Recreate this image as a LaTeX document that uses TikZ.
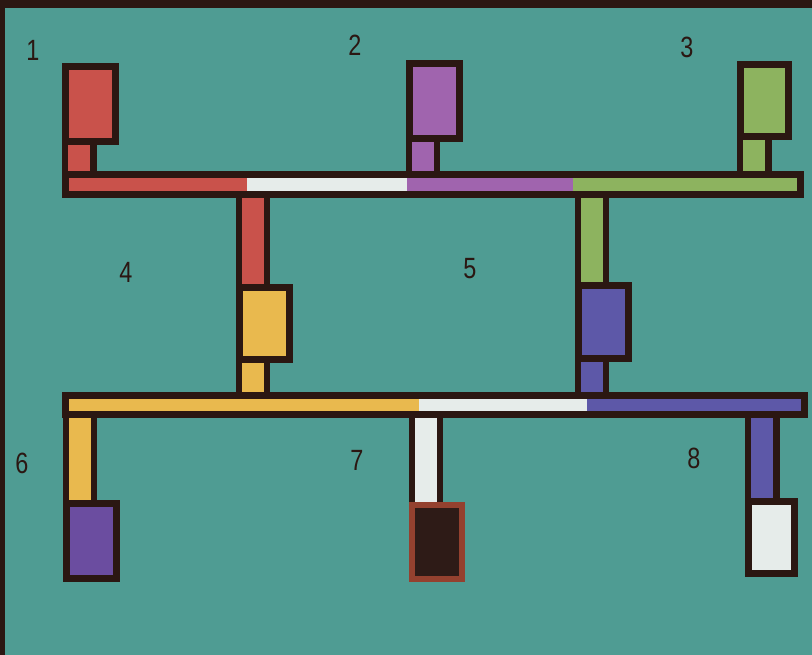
\documentclass[tikz,border=0pt]{standalone}
\usepackage{fontspec}
\newfontfamily\tagfont[FakeStretch=0.8]{Liberation Sans}
\usetikzlibrary{backgrounds}
\definecolor{PoolTeal}{HTML}{4F9C93}
\definecolor{Ink}{HTML}{2B1712}
\definecolor{CellRed}{HTML}{C9524B}
\definecolor{CellPlum}{HTML}{A064AE}
\definecolor{CellGreen}{HTML}{8DB35F}
\definecolor{CellYellow}{HTML}{E9B94E}
\definecolor{CellViolet}{HTML}{5D58A8}
\definecolor{CellDeep}{HTML}{6B4DA0}
\definecolor{CellWhite}{HTML}{E6ECEA}
\definecolor{CellBrown}{HTML}{94412F}
\definecolor{CellDark}{HTML}{2E1B17}

\begin{document}
\begin{tikzpicture}[x=0.3mm,y=-0.3mm,
  cell/.style={draw=Ink,line width=2.1mm,minimum width=15mm,minimum height=22.5mm,inner sep=0pt,outer sep=0pt},
  bar/.style={draw=Ink,line width=2.1mm,minimum height=6mm,inner sep=0pt,outer sep=0pt},
  stem/.style={draw=Ink,line width=1.9mm,double distance=6.6mm},
  tag/.style={font=\tagfont\fontsize{25}{25}\selectfont,text=Ink}
]
\useasboundingbox (0,0) rectangle (812,655);
% cells of each generation
\node[cell,fill=CellRed] (b1) at (90.5,104.5) {};
\node[cell,fill=CellPlum] (b2) at (434,101) {};
\node[cell,fill=CellGreen,minimum width=14.4mm,minimum height=21.6mm] (b3) at (764.5,100.5) {};
\node[cell,fill=CellYellow,minimum height=21.6mm] (b4) at (264,323.5) {};
\node[cell,fill=CellViolet,minimum height=21.9mm] (b5) at (603,322) {};
\node[cell,fill=CellDeep] (b6) at (91,541) {};
\node[cell,draw=CellBrown,fill=CellDark,line width=1.8mm,minimum height=22.2mm] (b7) at (437,541.5) {};
\node[cell,fill=CellWhite,minimum width=13.8mm,minimum height=21.6mm] (b8) at (771.5,537.5) {};
% the two bars
\node[bar,minimum width=220.5mm] (bar1) at (433,184.5) {};
\node[bar,minimum width=221.7mm,minimum height=5.7mm] (bar2) at (435,405) {};
% numbers
\node[tag] (n1) at (33,50) {1};
\node[tag] (n2) at (355,45) {2};
\node[tag] (n3) at (687,47) {3};
\node[tag] (n4) at (126,272) {4};
\node[tag] (n5) at (470,269) {5};
\node[tag] (n6) at (22,463) {6};
\node[tag] (n7) at (357,460) {7};
\node[tag] (n8) at (694,458) {8};
\begin{scope}[on background layer]
  \fill[PoolTeal] (0,0) rectangle (812,655);
  \fill[Ink] (0,0) rectangle (812,8);
  \fill[Ink] (0,0) rectangle (5,655);
  % bar segments
  \foreach \xa/\xb/\col in {65.5/247/CellRed,247/407/CellWhite,407/573/CellPlum,573/800.5/CellGreen}
    \fill[\col] (\xa,0 |- bar1.north) rectangle (\xb,0 |- bar1.south);
  \foreach \xa/\xb/\col in {65.5/419/CellYellow,419/587/CellWhite,587/804.5/CellViolet}
    \fill[\col] (\xa,0 |- bar2.north) rectangle (\xb,0 |- bar2.south);
  % stems
  \foreach \pa/\pb/\col in {b1.south west/bar1.north/CellRed,b2.south west/bar1.north/CellPlum,
      b3.south west/bar1.north/CellGreen,b4.north west/bar1.south/CellRed,
      b5.north west/bar1.south/CellGreen,b4.south west/bar2.north/CellYellow,
      b5.south west/bar2.north/CellViolet,b6.north west/bar2.south/CellYellow,
      b7.north west/bar2.south/CellWhite,b8.north west/bar2.south/CellViolet}{
    \coordinate (s) at ([xshift=4.15mm]\pa);
    \draw[stem,double=\col] (s) -- (s |- \pb);
  }
\end{scope}
\end{tikzpicture}
\end{document}
